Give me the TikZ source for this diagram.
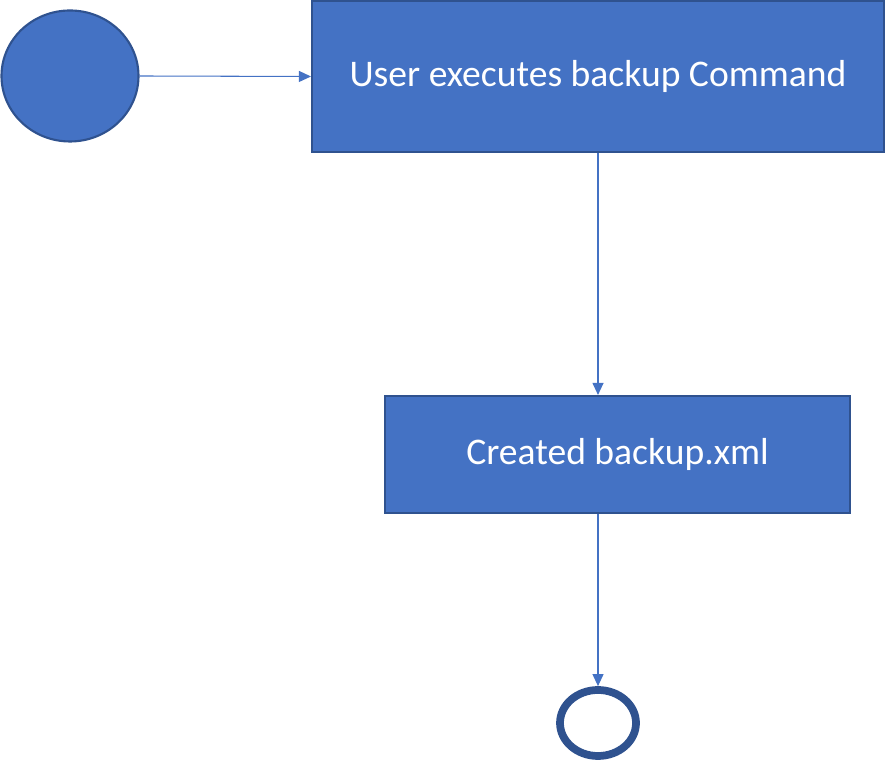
\documentclass[tikz,border=0pt]{standalone}
\usepackage{fontspec}
\setmainfont{Carlito}
\usetikzlibrary{arrows.meta,shapes.geometric}

\begin{document}
\begin{tikzpicture}[x=1cm,y=1cm]
\definecolor{flowFill}{HTML}{4472C4}
\definecolor{flowEdge}{HTML}{2F528F}
\tikzset{
  flowStep/.style={draw=flowEdge,line width=1.2pt,fill=flowFill,text=white,
    inner sep=0pt,font=\fontsize{21.4}{25}\selectfont},
  flowLink/.style={draw=flowFill,line width=0.6pt,
    -{Triangle[length=0.24cm,width=0.22cm]}}
}
\useasboundingbox (0,0) rectangle (17.7,15.22);
\node[ellipse,draw=flowEdge,line width=1.2pt,fill=flowFill,inner sep=0pt,
  minimum width=2.74cm,minimum height=2.62cm] (start) at (1.4,13.7) {};
\node[flowStep,minimum width=11.44cm,minimum height=3.02cm] (userCmd)
  at (11.96,13.69) {User executes backup Command};
\node[flowStep,minimum width=9.3cm,minimum height=2.34cm] (createdXml)
  at (12.35,6.13) {Created backup.xml};
\node[ellipse,draw=flowEdge,line width=4.4pt,fill=white,inner sep=0pt,
  minimum width=1.52cm,minimum height=1.32cm] (finish) at (11.96,0.76) {};
\draw[flowLink] (start.east) -- (userCmd.west);
\draw[flowLink] (userCmd.south) -- (userCmd.south |- createdXml.north);
\draw[flowLink] (userCmd.south |- createdXml.south) -- (finish.north);
\end{tikzpicture}
\end{document}
